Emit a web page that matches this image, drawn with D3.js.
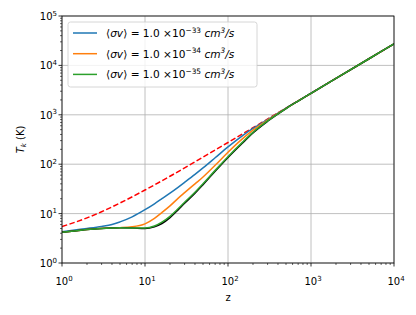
<!DOCTYPE html>
<html><head><meta charset="utf-8">
<script src="https://cdn.jsdelivr.net/npm/d3@7"></script>
<style>body{margin:0;background:#fff}svg{display:block}text{font-family:"DejaVu Sans",sans-serif;fill:#000}</style>
</head><body>
<svg id="c" width="416" height="315"></svg>
<script>
const zVals   = [1, 1.5, 2, 3, 4, 5, 7, 10, 13, 16, 20, 25, 30, 40, 50, 70, 100, 150, 200, 300, 500, 700, 1000, 2000, 5000, 10000];
const tBlue   = [4.3, 4.7, 5.0, 5.5, 6.0, 6.8, 8.6, 12, 15.8, 20, 25.9, 34, 42.8, 62, 84, 135, 224, 380, 530, 800, 1360, 1910, 2728, 5453, 13628, 27253];
const tOrange = [4.2, 4.5, 4.75, 5.0, 5.15, 5.2, 5.4, 6.2, 8.0, 10.5, 14.3, 20.3, 26.5, 40, 55, 95, 175, 330, 490, 780, 1350, 1905, 2728, 5453, 13628, 27253];
const tGreen  = [4.2, 4.5, 4.75, 5.0, 5.1, 5.15, 5.1, 5.1, 5.6, 6.7, 8.8, 12.5, 17, 27, 40, 75, 142, 280, 440, 750, 1340, 1900, 2728, 5453, 13628, 27253];
const tBlack  = [4.2, 4.5, 4.75, 5.0, 5.1, 5.15, 5.1, 5.0, 5.4, 6.3, 8.3, 11.9, 16.2, 25.8, 38.5, 72, 137, 270, 430, 740, 1340, 1900, 2728, 5453, 13628, 27253];
const zCmb    = [1, 2, 3, 5, 10, 20, 50, 100, 200, 500, 1000, 2000, 5000, 10000];
const tCmb    = [5.45, 8.2, 10.9, 16.4, 30, 57, 139, 275, 548, 1365, 2728, 5453, 13628, 27253];
const sigmaExp = ["−33", "−34", "−35"];
const xDecades = [0, 1, 2, 3, 4];
const yDecades = [0, 1, 2, 3, 4, 5];

const L = 62, R = 394, T = 16, B = 263;
const svg = d3.select("#c");
const x = d3.scaleLog().domain([1, 1e4]).range([L, R]);
const y = d3.scaleLog().domain([1, 1e5]).range([B, T]);

// grid
const g = svg.append("g");
xDecades.forEach(d => g.append("line").attr("x1", x(10**d)).attr("x2", x(10**d)).attr("y1", T).attr("y2", B).attr("stroke", "#b0b0b0").attr("stroke-width", 0.8));
yDecades.forEach(d => g.append("line").attr("y1", y(10**d)).attr("y2", y(10**d)).attr("x1", L).attr("x2", R).attr("stroke", "#b0b0b0").attr("stroke-width", 0.8));

// curves
svg.append("clipPath").attr("id", "cp").append("rect").attr("x", L).attr("y", T).attr("width", R - L).attr("height", B - T);
const line = (xs, ys) => d3.line().x((d, i) => x(xs[i])).y((d, i) => y(ys[i])).curve(d3.curveMonotoneX)(ys);
const cg = svg.append("g").attr("clip-path", "url(#cp)");
cg.append("path").attr("d", line(zCmb, tCmb)).attr("fill", "none").attr("stroke", "#ff0000").attr("stroke-width", 1.5).attr("stroke-dasharray", "5.5,2.4");
cg.append("path").attr("d", line(zVals, tBlue)).attr("fill", "none").attr("stroke", "#1f77b4").attr("stroke-width", 1.5);
cg.append("path").attr("d", line(zVals, tOrange)).attr("fill", "none").attr("stroke", "#ff7f0e").attr("stroke-width", 1.5);
cg.append("path").attr("d", line(zVals, tBlack)).attr("fill", "none").attr("stroke", "#000").attr("stroke-width", 1.5);
cg.append("path").attr("d", line(zVals, tGreen)).attr("fill", "none").attr("stroke", "#2ca02c").attr("stroke-width", 1.5);

// ticks
const tk = svg.append("g").attr("stroke", "#000");
for (let d = 0; d < 4; d++) for (let m = 1; m < 10; m++) {
  const v = m * 10**d; const len = m === 1 ? 3.5 : 2;
  tk.append("line").attr("x1", x(v)).attr("x2", x(v)).attr("y1", B).attr("y2", B + len).attr("stroke-width", m === 1 ? 0.8 : 0.6);
}
tk.append("line").attr("x1", x(1e4)).attr("x2", x(1e4)).attr("y1", B).attr("y2", B + 3.5).attr("stroke-width", 0.8);
for (let d = 0; d < 5; d++) for (let m = 1; m < 10; m++) {
  const v = m * 10**d; const len = m === 1 ? 3.5 : 2;
  tk.append("line").attr("y1", y(v)).attr("y2", y(v)).attr("x1", L).attr("x2", L - len).attr("stroke-width", m === 1 ? 0.8 : 0.6);
}
tk.append("line").attr("y1", y(1e5)).attr("y2", y(1e5)).attr("x1", L).attr("x2", L - 3.5).attr("stroke-width", 0.8);

// tick labels
function pow(sel, e) {
  sel.append("tspan").text("10");
  sel.append("tspan").attr("dy", -4.5).attr("font-size", 7).text(e);
}
xDecades.forEach(d => {
  const t = svg.append("text").attr("x", x(10**d) + 2).attr("y", 285).attr("font-size", 10).attr("text-anchor", "middle");
  pow(t, d);
});
yDecades.forEach(d => {
  const t = svg.append("text").attr("x", L - 5).attr("y", y(10**d) + 4).attr("font-size", 10).attr("text-anchor", "end");
  pow(t, d);
});

// spines
svg.append("rect").attr("x", L).attr("y", T).attr("width", R - L).attr("height", B - T).attr("fill", "none").attr("stroke", "#000").attr("stroke-width", 0.8);

// axis labels
svg.append("text").attr("x", (L + R) / 2).attr("y", 301).attr("font-size", 10).attr("text-anchor", "middle").text("z");
const yl = svg.append("text").attr("transform", `translate(24,${(T + B) / 2}) rotate(-90)`).attr("font-size", 10).attr("text-anchor", "middle");
yl.append("tspan").attr("font-style", "italic").text("T");
yl.append("tspan").attr("font-style", "italic").attr("font-size", 7).attr("dy", 2).text("k");
yl.append("tspan").attr("dy", -2).text(" (K)");

// legend
const lg = svg.append("g");
lg.append("rect").attr("x", 68).attr("y", 22).attr("width", 189).attr("height", 65).attr("rx", 2.5).attr("fill", "#fff").attr("fill-opacity", 0.8).attr("stroke", "#cccccc").attr("stroke-width", 0.8);
const cols = ["#1f77b4", "#ff7f0e", "#2ca02c"];
sigmaExp.forEach((e, i) => {
  const yy = 33 + i * 20.7;
  lg.append("line").attr("x1", 73).attr("x2", 97).attr("y1", yy).attr("y2", yy).attr("stroke", cols[i]).attr("stroke-width", 1.5);
  const t = lg.append("text").attr("x", 106).attr("y", yy + 4).attr("font-size", 10.6);
  t.append("tspan").text("⟨");
  t.append("tspan").attr("font-style", "italic").text("σv");
  t.append("tspan").text("⟩ = 1.0 ×10");
  t.append("tspan").attr("dy", -4.5).attr("font-size", 7.4).text(e);
  t.append("tspan").attr("dy", 4.5).attr("font-style", "italic").text(" cm");
  t.append("tspan").attr("dy", -4.5).attr("font-size", 7.4).attr("font-style", "italic").text("3");
  t.append("tspan").attr("dy", 4.5).attr("font-style", "italic").text("/s");
});
</script>
</body></html>
